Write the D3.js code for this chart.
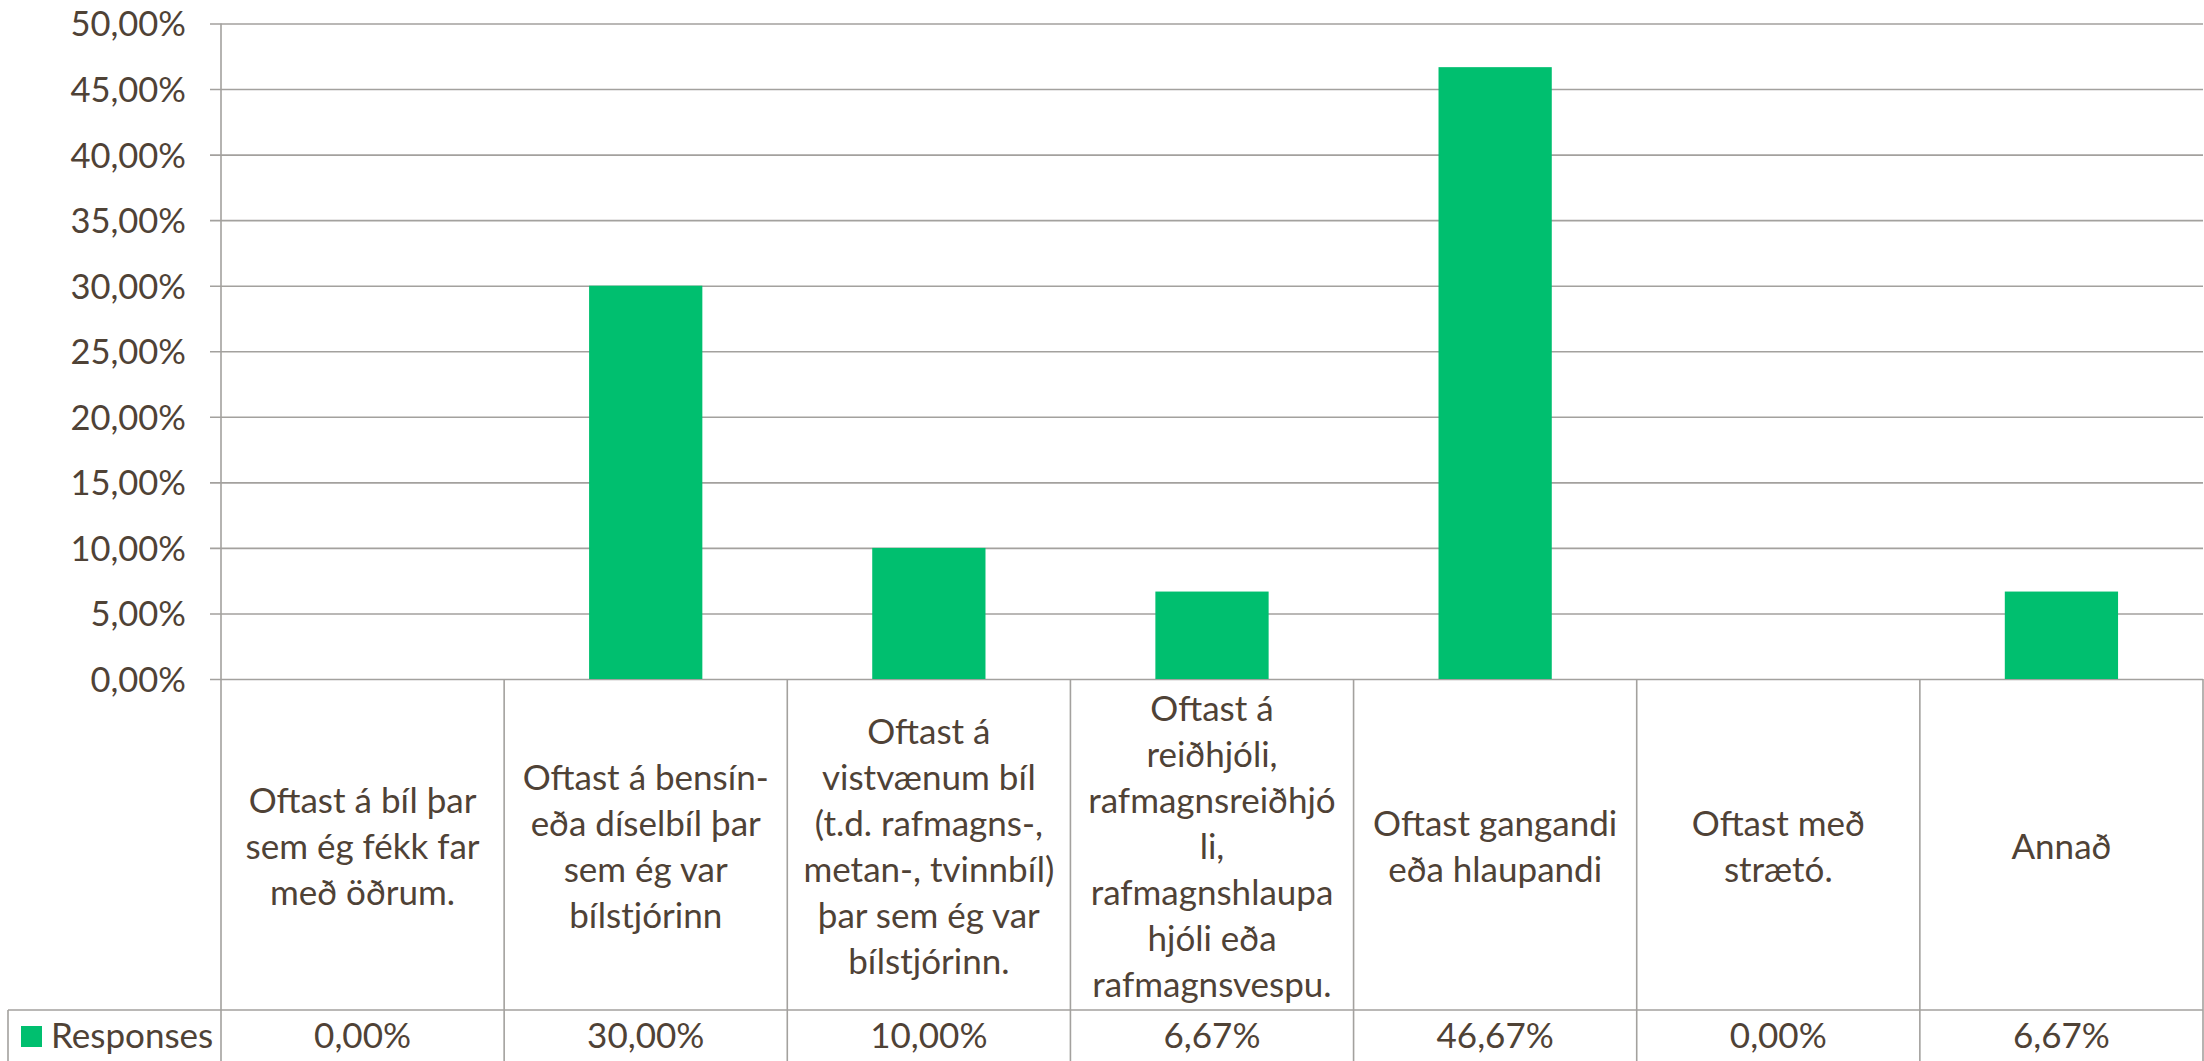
<!DOCTYPE html>
<html>
<head>
<meta charset="utf-8">
<script src="https://cdn.jsdelivr.net/npm/d3@7"></script>
<style>
  html, body { margin: 0; padding: 0; background: #fff; }
  svg { display: block; font-family: Lato, "Noto Sans", sans-serif; }
</style>
</head>
<body>
<svg id="chart" width="2204" height="1061"></svg>
<script>
// categories (line breaks as in the original table)
const categories = [
  "Oftast á bíl þar\nsem ég fékk far\nmeð öðrum.",
  "Oftast á bensín-\neða díselbíl þar\nsem ég var\nbílstjórinn",
  "Oftast á\nvistvænum bíl\n(t.d. rafmagns-,\nmetan-, tvinnbíl)\nþar sem ég var\nbílstjórinn.",
  "Oftast á\nreiðhjóli,\nrafmagnsreiðhjó\nli,\nrafmagnshlaupa\nhjóli eða\nrafmagnsvespu.",
  "Oftast gangandi\neða hlaupandi",
  "Oftast með\nstrætó.",
  "Annað"
];
const responses = [0, 0.30, 0.10, 0.0667, 0.4667, 0, 0.0667];
const seriesName = "Responses";
const yTicks = [0, 0.05, 0.10, 0.15, 0.20, 0.25, 0.30, 0.35, 0.40, 0.45, 0.50];

const textColor = "#4f4236",
      gridColor = "#a3a19e",
      barColor = "#00bf6f";

const svg = d3.select("#chart"),
      plotLeft = 221, plotRight = 2203,
      plotTop = 23.5, zeroY = 679,
      rowY = 1010, tableBottom = 1075;

const isl = d3.formatLocale({ decimal: ",", thousands: ".", grouping: [3], currency: ["", " kr."] });
const pct = isl.format(".2%");

const x = d3.scaleBand()
  .domain(d3.range(categories.length))
  .range([plotLeft, plotRight]);

const xBar = d3.scaleBand()
  .domain(d3.range(categories.length))
  .range([plotLeft, plotRight])
  .paddingInner(0.6)
  .paddingOuter(0.3);

const y = d3.scaleLinear()
  .domain([0, 0.5])
  .range([zeroY, plotTop]);

// gridlines + ticks
const yAxis = svg.append("g")
  .attr("transform", `translate(${plotLeft},0)`)
  .call(d3.axisLeft(y).tickValues(yTicks).tickSize(-(plotRight - plotLeft)).tickSizeOuter(0).tickFormat(pct).tickPadding(35));
yAxis.select(".domain").remove();
yAxis.selectAll(".tick line")
  .attr("x1", -11)
  .attr("stroke", gridColor)
  .attr("stroke-width", 1.6);
yAxis.selectAll(".tick text")
  .attr("fill", textColor)
  .attr("font-size", 34.5)
  .attr("font-family", "Lato, 'Noto Sans', sans-serif")
  .attr("dy", "0.36em");

// bars
svg.append("g").selectAll("rect")
  .data(responses)
  .enter().append("rect")
  .attr("x", (d, i) => xBar(i))
  .attr("width", xBar.bandwidth())
  .attr("y", d => y(d))
  .attr("height", d => zeroY - y(d))
  .attr("fill", barColor);

// data table
const table = svg.append("g")
  .attr("stroke", gridColor)
  .attr("stroke-width", 1.6);

// y axis line continuing down through table
table.append("line")
  .attr("x1", plotLeft).attr("x2", plotLeft)
  .attr("y1", plotTop).attr("y2", tableBottom);

table.selectAll(".vline")
  .data(d3.range(1, categories.length + 1))
  .enter().append("line")
  .attr("x1", i => x(i - 1) + x.bandwidth())
  .attr("x2", i => x(i - 1) + x.bandwidth())
  .attr("y1", zeroY)
  .attr("y2", tableBottom);

table.append("line")
  .attr("x1", 8).attr("x2", plotRight)
  .attr("y1", rowY).attr("y2", rowY);

table.append("line")
  .attr("x1", 8).attr("x2", 8)
  .attr("y1", rowY).attr("y2", tableBottom);

// category labels
const lineH = 46;
const cat = svg.append("g")
  .attr("fill", textColor)
  .attr("font-size", 35)
  .attr("text-anchor", "middle");

categories.forEach((c, i) => {
  const lines = c.split("\n");
  const cy = (zeroY + rowY) / 2 + 2;
  const t = cat.append("text")
    .attr("x", x(i) + x.bandwidth() / 2);
  lines.forEach((l, k) => {
    t.append("tspan")
      .attr("x", x(i) + x.bandwidth() / 2)
      .attr("y", cy + (k - (lines.length - 1) / 2) * lineH)
      .attr("dy", "0.35em")
      .text(l);
  });
});

// value row
svg.append("g")
  .attr("fill", textColor)
  .attr("font-size", 35)
  .attr("text-anchor", "middle")
  .selectAll("text")
  .data(responses)
  .enter().append("text")
  .attr("x", (d, i) => x(i) + x.bandwidth() / 2)
  .attr("y", 1048)
  .text(d => pct(d));

// legend key
svg.append("rect")
  .attr("x", 21).attr("y", 1026)
  .attr("width", 21).attr("height", 21)
  .attr("fill", barColor);

svg.append("text")
  .attr("x", 51).attr("y", 1048)
  .attr("fill", textColor)
  .attr("font-size", 35)
  .text(seriesName);
</script>
</body>
</html>
